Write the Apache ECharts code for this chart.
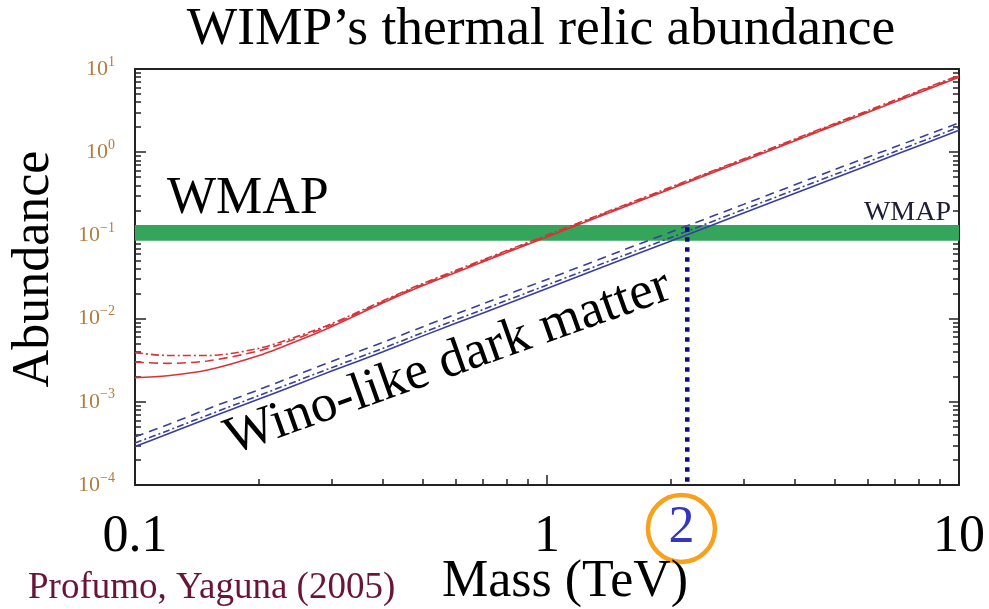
<!DOCTYPE html>
<html>
<head>
<meta charset="utf-8">
<script src="https://cdn.jsdelivr.net/npm/echarts@6/dist/echarts.min.js"></script>
<style>
html,body{margin:0;padding:0;background:#fff;}
#main{width:989px;height:609px;}
</style>
</head>
<body>
<div id="main"></div>
<script>
// ---- data ----
const masses = [0.1, 0.12, 0.15, 0.2, 0.25, 0.3, 0.4, 0.5, 0.7, 1, 1.5, 2, 3, 5, 7, 10];
const redSolid   = [0.00195, 0.00206, 0.00241, 0.0036, 0.0055, 0.0080, 0.0155, 0.0250, 0.0483, 0.0959, 0.209, 0.363, 0.791, 2.11, 4.03, 7.98];
const redDashed  = [0.0030, 0.0029, 0.0031, 0.0041, 0.0059, 0.0084, 0.0160, 0.0259, 0.0498, 0.099, 0.215, 0.374, 0.815, 2.17, 4.15, 8.2];
const redDashDot = [0.0039, 0.0036, 0.0036, 0.0044, 0.0062, 0.0087, 0.0164, 0.0265, 0.0510, 0.101, 0.220, 0.382, 0.830, 2.22, 4.24, 8.4];
const blueSolid   = [2.9e-4, 4.1e-4, 6.3e-4, 1.08e-3, 1.65e-3, 2.34e-3, 4.0e-3, 6.2e-3, 0.0117, 0.023, 0.0498, 0.0859, 0.186, 0.49, 0.93, 1.83];
const blueDashed  = [3.8e-4, 5.3e-4, 8.2e-4, 1.4e-3, 2.15e-3, 3.05e-3, 5.2e-3, 8.0e-3, 0.0151, 0.0296, 0.064, 0.11, 0.236, 0.62, 1.16, 2.25];
const blueDashDot = [3.2e-4, 4.5e-4, 6.9e-4, 1.19e-3, 1.82e-3, 2.57e-3, 4.4e-3, 6.8e-3, 0.0129, 0.0253, 0.055, 0.0945, 0.205, 0.54, 1.02, 2.0];
const wmapBand = [0.086, 0.133];
const winoMass = [2.19, 2.19];
const winoLine = [0.125, 1e-4];

const xTickValues = [0.1, 1, 2.12, 10];
const xTickLabels = ['0.1', '1', '2', '10'];
const xMajorTicks = [0.1, 1, 10];
const xMinorTicks = [0.2,0.3,0.4,0.5,0.6,0.7,0.8,0.9,2,3,4,5,6,7,8,9];
const yTickValues = [1e-4, 1e-3, 1e-2, 1e-1, 1, 10];
const yTickExps = ['\u22124', '\u22123', '\u22122', '\u22121', '0', '1'];
const yMinorTicks = [];
[1e-4,1e-3,1e-2,1e-1,1].forEach(d => { for (let k = 2; k <= 9; k++) yMinorTicks.push(+(d*k).toPrecision(3)); });

const serif = '"Liberation Serif","Times New Roman",serif';
const RED = '#d8333a', BLUE = '#3a3f9c';

function pair(xs, ys){ return xs.map((x,i)=>[x, ys[i]]); }
function findIdx(arr, val){
  for (let i=0;i<arr.length;i++){ if (Math.abs(arr[i]-val) < 1e-6*Math.max(1,arr[i]) || Math.abs(Math.log10(arr[i])-val) < 1e-6) return i; }
  return -1;
}

const chart = echarts.init(document.getElementById('main'), null, {renderer:'canvas'});
const grid = {left:135, right:30, top:69, bottom:124};
const lineSeries = (name, ys, color, type) => ({
  name, type:'line', data: pair(masses, ys), showSymbol:false, smooth:0.3, z:3,
  lineStyle:{color, width:1.6, type}, xAxisIndex:0, yAxisIndex:0, silent:true
});

const baseLog = {type:'log', logBase:10, min:0.1, max:10, splitLine:{show:false}};
const baseLogY = {type:'log', logBase:10, min:1e-4, max:10, splitLine:{show:false}};

chart.setOption({
  animation:false,
  backgroundColor:'#ffffff',
  grid,
  xAxis:[
    Object.assign({}, baseLog, {position:'bottom',
      axisLine:{show:true, lineStyle:{color:'#222', width:2}},
      axisTick:{show:true, inside:true, length:10, customValues:xMajorTicks, lineStyle:{color:'#222', width:1.5}},
      axisLabel:{show:true, customValues:xTickValues, margin:10, hideOverlap:false,
        formatter:(v)=>{ const i=findIdx(xTickValues, v); if(i<0) return ''; return i===2 ? '{c|'+xTickLabels[i]+'}' : '{n|'+xTickLabels[i]+'}'; },
        rich:{
          n:{fontFamily:serif, fontSize:52, color:'#000', lineHeight:84},
          c:{fontFamily:serif, fontSize:52, color:'#3535c0', width:67, height:67, lineHeight:67, align:'center',
             borderColor:'#f7a11c', borderWidth:4.5, borderRadius:36}
        }}}),
    Object.assign({}, baseLog, {position:'bottom',
      axisLine:{show:false}, axisLabel:{show:false},
      axisTick:{show:true, inside:true, length:6, customValues:xMinorTicks, lineStyle:{color:'#222', width:1.5}}}),
    Object.assign({}, baseLog, {position:'top',
      axisLine:{show:true, lineStyle:{color:'#222', width:2}}, axisLabel:{show:false}, axisTick:{show:false}})
  ],
  yAxis:[
    Object.assign({}, baseLogY, {position:'left',
      axisLine:{show:true, lineStyle:{color:'#222', width:2}},
      axisTick:{show:true, inside:true, length:11, customValues:yTickValues, lineStyle:{color:'#222', width:1.5}},
      axisLabel:{show:true, customValues:yTickValues, margin:20, hideOverlap:false,
        formatter:(v)=>{ const i=findIdx(yTickValues, v); if(i<0) return ''; return '{b|10}{s|'+yTickExps[i]+'}'; },
        rich:{
          b:{fontFamily:serif, fontSize:22, color:'#b07e3c'},
          s:{fontFamily:serif, fontSize:14, color:'#b07e3c', padding:[0,0,14,0]}
        }}}),
    Object.assign({}, baseLogY, {position:'left',
      axisLine:{show:false}, axisLabel:{show:false},
      axisTick:{show:true, inside:true, length:6, customValues:yMinorTicks, lineStyle:{color:'#222', width:1.5}}}),
    Object.assign({}, baseLogY, {position:'right',
      axisLine:{show:true, lineStyle:{color:'#222', width:2}}, axisLabel:{show:false},
      axisTick:{show:true, inside:true, length:10, customValues:yTickValues, lineStyle:{color:'#222', width:1.5}}}),
    Object.assign({}, baseLogY, {position:'right',
      axisLine:{show:false}, axisLabel:{show:false},
      axisTick:{show:true, inside:true, length:6, customValues:yMinorTicks, lineStyle:{color:'#222', width:1.5}}})
  ],
  series:[
    {type:'line', data:[], xAxisIndex:0, yAxisIndex:0, z:1, silent:true,
     markArea:{silent:true, itemStyle:{color:'#34a55a', opacity:1},
       data:[[{yAxis:wmapBand[0]},{yAxis:wmapBand[1]}]]}},
    lineSeries('red solid', redSolid, RED, 'solid'),
    lineSeries('red dashed', redDashed, RED, [9,5]),
    lineSeries('red dashdot', redDashDot, RED, [8,3,2,3]),
    lineSeries('blue solid', blueSolid, BLUE, 'solid'),
    lineSeries('blue dashed', blueDashed, BLUE, [9,6]),
    lineSeries('blue dashdot', blueDashDot, BLUE, [7,3,2,3]),
    {type:'line', name:'wino', data:pair(winoMass, winoLine), showSymbol:false, z:4, silent:true,
     lineStyle:{color:'#0b0b82', width:4.5, type:[4.5,5.5]}}
  ],
  graphic:[
    {type:'text', x:541, y:30, z:10, style:{text:'WIMP\u2019s thermal relic abundance', font:'53.5px '+serif, fill:'#000', align:'center', verticalAlign:'middle'}},
    {type:'text', x:34, y:269, rotation:Math.PI/2, z:10, style:{text:'Abundance', font:'52px '+serif, fill:'#000', align:'center', verticalAlign:'middle'}},
    {type:'text', x:167, y:199, z:10, style:{text:'WMAP', font:'52px '+serif, fill:'#000', align:'left', verticalAlign:'middle'}},
    {type:'text', x:951, y:213, z:10, style:{text:'WMAP', font:'28px '+serif, fill:'#1d1d33', align:'right', verticalAlign:'middle'}},
    {type:'text', x:448, y:363, rotation:19.5*Math.PI/180, z:10, style:{text:'Wino-like dark matter', font:'53px '+serif, fill:'#000', align:'center', verticalAlign:'middle'}},
    {type:'text', x:565, y:582, z:10, style:{text:'Mass (TeV)', font:'52px '+serif, fill:'#000', align:'center', verticalAlign:'middle'}},
    {type:'text', x:28, y:588, z:10, style:{text:'Profumo, Yaguna (2005)', font:'37px '+serif, fill:'#6a1438', align:'left', verticalAlign:'middle'}}
  ]
});
</script>
</body>
</html>
